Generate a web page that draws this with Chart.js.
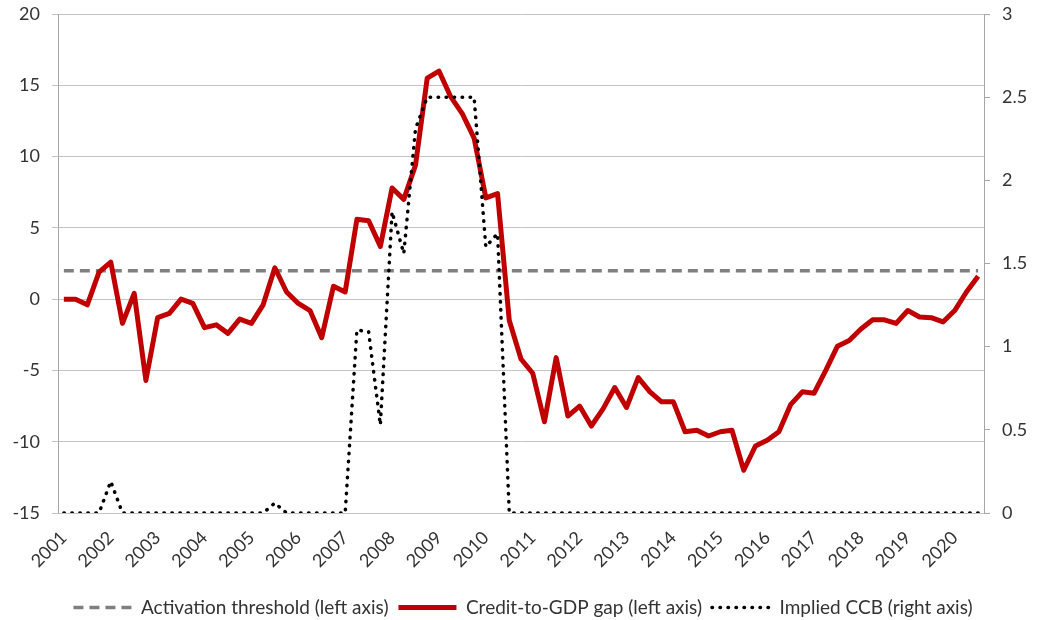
<!DOCTYPE html>
<html>
<head>
<meta charset="utf-8">
<script src="https://cdn.jsdelivr.net/npm/chart.js@4/dist/chart.umd.min.js"></script>
<style>
    body { margin: 0; background: #fff; }
    #graphs { display: block; }
</style>
</head>
<body>
<canvas id="graphs" width="1046" height="620"></canvas>
<script>
// quarterly, 2001Q1 - 2020Q3
const years = ['2001', '2002', '2003', '2004', '2005', '2006', '2007', '2008', '2009', '2010',
    '2011', '2012', '2013', '2014', '2015', '2016', '2017', '2018', '2019', '2020'];
const quarters = [];
years.forEach(function (y) {
    ['Q1', 'Q2', 'Q3', 'Q4'].forEach(function (q) { quarters.push(y + q); });
});
quarters.length = 79;

// credit-to-GDP gap (left axis)
const creditGap = [
    0.0, 0.0, -0.4, 1.9, 2.6, -1.7, 0.4, -5.7, -1.3, -1.0,
    0.0, -0.3, -2.0, -1.8, -2.4, -1.4, -1.7, -0.4, 2.2, 0.5,
    -0.3, -0.8, -2.7, 0.9, 0.5, 5.6, 5.5, 3.7, 7.8, 7.0,
    9.4, 15.5, 16.0, 14.2, 13.0, 11.3, 7.1, 7.4, -1.5, -4.2,
    -5.2, -8.6, -4.1, -8.2, -7.5, -8.9, -7.7, -6.2, -7.6, -5.5,
    -6.5, -7.2, -7.2, -9.3, -9.2, -9.6, -9.3, -9.2, -12.0, -10.3,
    -9.9, -9.3, -7.4, -6.5, -6.6, -5.0, -3.3, -2.9, -2.1, -1.45,
    -1.45, -1.7, -0.8, -1.25, -1.3, -1.6, -0.8, 0.5, 1.6
];

// implied CCB (right axis)
const impliedCCB = [
    0, 0, 0, 0, 0.19, 0, 0, 0, 0, 0,
    0, 0, 0, 0, 0, 0, 0, 0, 0.06, 0,
    0, 0, 0, 0, 0, 1.1, 1.09, 0.53, 1.81, 1.56,
    2.31, 2.5, 2.5, 2.5, 2.5, 2.5, 1.6, 1.68, 0, 0,
    0, 0, 0, 0, 0, 0, 0, 0, 0, 0,
    0, 0, 0, 0, 0, 0, 0, 0, 0, 0,
    0, 0, 0, 0, 0, 0, 0, 0, 0, 0,
    0, 0, 0, 0, 0, 0, 0, 0, 0
];

// activation threshold (left axis)
const threshold = quarters.map(function () { return 2; });

function fitY(width) {
    return function (scale) {
        scale.width = width;
        scale.paddingTop = 0;
        scale.paddingBottom = 0;
    };
}

function initChart(id) {
    const ctx = document.getElementById(id).getContext('2d');
    const fontFamily = 'Lato, "Open Sans", sans-serif';
    const tickFont = { family: fontFamily, size: 18 };
    const tickColor = '#333333';
    const gridColor = '#c4c4c4';

    new Chart(ctx, {
        type: 'line',
        data: {
            labels: quarters,
            datasets: [{
                label: 'Activation threshold (left axis)',
                data: threshold,
                yAxisID: 'y',
                borderColor: '#808080',
                borderWidth: 3.5,
                borderDash: [10, 6],
                pointRadius: 0,
                pointStyle: 'line',
                order: 3,
            }, {
                label: 'Credit-to-GDP gap (left axis)',
                data: creditGap,
                yAxisID: 'y',
                borderColor: '#c00000',
                borderWidth: 5,
                borderJoinStyle: 'round',
                pointRadius: 0,
                pointStyle: 'line',
                order: 2,
            }, {
                label: 'Implied CCB (right axis)',
                data: impliedCCB,
                yAxisID: 'y1',
                borderColor: '#000000',
                borderWidth: 3.5,
                borderDash: [0.5, 7.5],
                borderCapStyle: 'round',
                pointRadius: 0,
                pointStyle: 'line',
                order: 1,
            }],
        },
        options: {
            responsive: false,
            animation: false,
            layout: {
                padding: { top: 14, right: 0, bottom: -7, left: 0 }
            },
            plugins: {
                tooltip: { enabled: false },
                legend: {
                    position: 'bottom',
                    labels: {
                        usePointStyle: true,
                        pointStyleWidth: 58,
                        padding: 10,
                        color: tickColor,
                        font: { family: fontFamily, size: 19 },
                        sort: function (a, b) { return a.datasetIndex - b.datasetIndex; },
                        // legend lines take the dash of their dataset
                        generateLabels: function (chart) {
                            const items = Chart.defaults.plugins.legend.labels.generateLabels(chart);
                            items.forEach(function (item) {
                                const ds = chart.data.datasets[item.datasetIndex];
                                item.lineDash = ds.borderDash || [];
                                item.lineWidth = ds.borderWidth;
                                item.lineCap = ds.borderCapStyle || 'butt';
                                item.strokeStyle = ds.borderColor;
                            });
                            return items;
                        },
                    },
                },
            },
            scales: {
                x: {
                    offset: true,
                    grid: { display: false },
                    border: { display: true, color: gridColor },
                    ticks: {
                        autoSkip: false,
                        minRotation: 45,
                        maxRotation: 45,
                        padding: 6,
                        color: tickColor,
                        font: tickFont,
                        callback: function (value, index) {
                            const q = quarters[index];
                            return q.slice(4) === 'Q1' ? q.slice(0, 4) : '';
                        },
                    },
                    afterFit: function (scale) { scale.height = 75; },
                },
                y: {
                    position: 'left',
                    min: -15,
                    max: 20,
                    grid: {
                        color: gridColor,
                        tickLength: 6,
                    },
                    border: { color: '#a6a6a6' },
                    ticks: {
                        stepSize: 5,
                        padding: 12,
                        color: tickColor,
                        font: tickFont,
                    },
                    afterFit: fitY(58),
                },
                y1: {
                    position: 'right',
                    min: 0,
                    max: 3,
                    grid: {
                        drawOnChartArea: false,
                        color: '#a6a6a6',
                        tickLength: 6,
                    },
                    border: { color: '#a6a6a6' },
                    ticks: {
                        stepSize: 0.5,
                        padding: 12,
                        color: tickColor,
                        font: tickFont,
                        callback: function (value) { return String(value); },
                    },
                    afterFit: fitY(62),
                },
            },
        },
    });
}

initChart('graphs');
</script>
</body>
</html>
